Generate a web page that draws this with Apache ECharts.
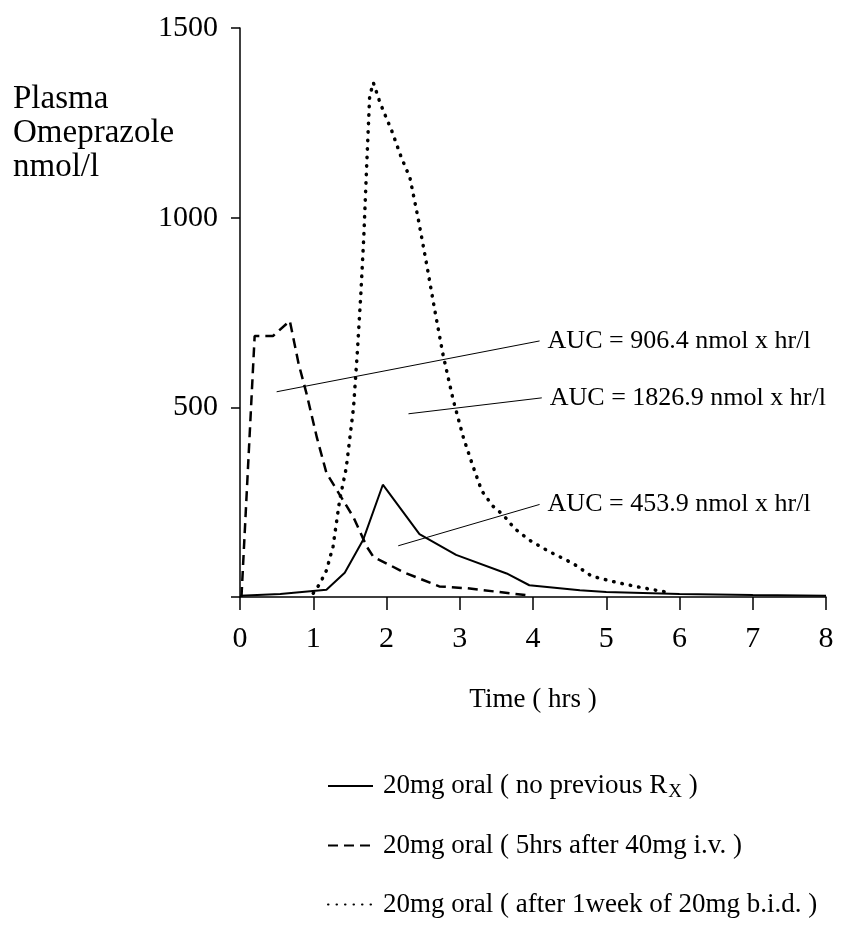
<!DOCTYPE html>
<html>
<head>
<meta charset="utf-8">
<script src="https://cdn.jsdelivr.net/npm/echarts@6/dist/echarts.min.js"></script>
<style>
  html, body { margin: 0; padding: 0; background: #fff; }
  #chart { width: 842px; height: 944px; }
</style>
</head>
<body>
<div id="chart"></div>
<script>
// values: [hours, nmol/l]
var noPrevious = [
  [0, 3], [0.55, 8], [1.18, 19], [1.43, 64], [1.68, 150], [1.95, 296],
  [2.45, 166], [2.95, 111], [3.64, 62], [3.95, 31], [4.64, 18], [5, 13],
  [6, 8], [7, 5], [8, 3]
];
var afterIv = [
  [0.02, 0], [0.2, 688], [0.45, 688], [0.68, 728], [0.8, 615], [0.91, 535],
  [1.05, 420], [1.18, 327], [1.36, 270], [1.55, 210], [1.73, 133], [1.82, 106],
  [2.25, 64], [2.72, 28], [3.1, 23], [3.5, 14], [3.95, 4]
];
var afterWeek = [
  [1.0, 10], [1.09, 35], [1.18, 70], [1.27, 133], [1.36, 255], [1.45, 340],
  [1.55, 500], [1.6, 640], [1.65, 800], [1.69, 950], [1.73, 1140], [1.77, 1320],
  [1.82, 1356], [1.9, 1310], [1.96, 1280], [2.07, 1230], [2.2, 1160], [2.32, 1105],
  [2.43, 1000], [2.55, 875], [2.66, 755], [2.77, 640], [2.91, 520], [3.05, 420],
  [3.18, 345], [3.3, 280], [3.45, 240], [3.6, 215], [3.75, 180], [3.95, 150],
  [4.2, 122], [4.55, 88], [4.8, 55], [5.15, 38], [5.45, 26], [5.7, 17], [5.85, 12]
];

var seriesNames = [
  '20mg oral ( no previous R{sub|X} )',
  '20mg oral ( 5hrs after 40mg i.v. )',
  '20mg oral ( after 1week of 20mg b.i.d. )'
];

// AUC leader lines: start and end in data units
var aucLabels = ['AUC = 906.4 nmol x hr/l', 'AUC = 1826.9 nmol x hr/l', 'AUC = 453.9 nmol x hr/l'];
var aucLines = [
  [[0.5, 541], [4.09, 675]],
  [[2.3, 483], [4.12, 525]],
  [[2.16, 135], [4.09, 244]]
];

var yTicks = [0, 500, 1000, 1500];
var xTicks = [0, 1, 2, 3, 4, 5, 6, 7, 8];

var serif = 'Liberation Serif';
var chart = echarts.init(document.getElementById('chart'));

var series = [
  { name: seriesNames[0], data: noPrevious, lineStyle: { type: 'solid', width: 2 } },
  { name: seriesNames[1], data: afterIv, lineStyle: { type: [10, 6], width: 2.5 } },
  { name: seriesNames[2], data: afterWeek, lineStyle: { type: [0.5, 8], width: 3.5, cap: 'round' } }
].map(function (s) {
  s.type = 'line';
  s.symbol = 'none';
  s.lineStyle.color = '#000';
  s.itemStyle = { color: '#000' };
  s.silent = true;
  return s;
});

aucLines.forEach(function (pts, i) {
  series.push({
    type: 'line',
    name: 'auc' + i,
    data: pts,
    symbol: 'none',
    silent: true,
    lineStyle: { color: '#000', width: 1 },
    endLabel: {
      show: true,
      distance: 8,
      formatter: aucLabels[i],
      color: '#000',
      fontFamily: serif,
      fontSize: 26
    }
  });
});

chart.setOption({
  animation: false,
  backgroundColor: '#fff',
  title: {
    text: 'Plasma\nOmeprazole\nnmol/l',
    left: 8,
    top: 77,
    textStyle: { fontFamily: serif, fontSize: 33, fontWeight: 'normal', color: '#000', lineHeight: 34 }
  },
  grid: { left: 240, right: 16, top: 28, bottom: 347, outerBoundsMode: 'none' },
  legend: {
    data: seriesNames,
    orient: 'vertical',
    left: 322,
    top: 766,
    itemWidth: 45,
    itemHeight: 14,
    itemGap: 29,
    selectedMode: false,
    itemStyle: { opacity: 0 },
    textStyle: {
      fontFamily: serif,
      fontSize: 27,
      color: '#000',
      lineHeight: 30,
      padding: [0, 0, 0, 5],
      rich: {
        sub: { fontFamily: serif, fontSize: 19, padding: [12, 0, 0, 1], color: '#000' }
      }
    }
  },
  xAxis: {
    type: 'value',
    min: xTicks[0],
    max: xTicks[xTicks.length - 1],
    interval: 1,
    name: 'Time ( hrs )',
    nameLocation: 'middle',
    nameGap: 89,
    nameTextStyle: { fontFamily: serif, fontSize: 27, color: '#000' },
    splitLine: { show: false },
    axisLine: { lineStyle: { color: '#000', width: 1.5 } },
    axisTick: { length: 13, lineStyle: { color: '#000', width: 1.5 } },
    axisLabel: { margin: 27, fontFamily: serif, fontSize: 30, color: '#000' }
  },
  yAxis: {
    type: 'value',
    min: yTicks[0],
    max: yTicks[yTicks.length - 1],
    interval: 500,
    splitLine: { show: false },
    axisLine: { show: true, lineStyle: { color: '#000', width: 1.5 } },
    axisTick: { show: true, length: 9, lineStyle: { color: '#000', width: 1.5 } },
    axisLabel: {
      margin: 22,
      fontFamily: serif,
      fontSize: 30,
      color: '#000',
      formatter: function (v) { return v === 0 ? '' : String(v); }
    }
  },
  series: series
});
</script>
</body>
</html>
